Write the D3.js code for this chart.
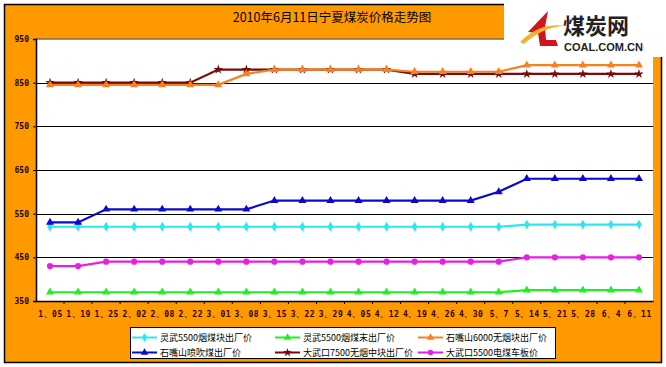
<!DOCTYPE html>
<html><head><meta charset="utf-8">
<script src="https://cdn.jsdelivr.net/npm/d3@7"></script>
<style>body{margin:0;background:#fff}svg{display:block}</style>
</head><body>
<script>
const title = "2010年6月11日宁夏煤炭价格走势图";
const categories = ["1、05","1、19","1、25","2、02","2、08","2、22","3、01","3、08","3、15","3、22","3、29","4、05","4、12","4、19","4、26","4、30","5、7","5、14","5、21","5、28","6、4","6、11"];
const yTicks = [350,450,550,650,750,850,950];
const seriesNames = ["灵武5500烟煤块出厂价","灵武5500烟煤末出厂价","石嘴山6000无烟块出厂价","石嘴山喷吹煤出厂价","大武口7500无烟中块出厂价","大武口5500电煤车板价"];
const lingwuBlock = [520,520,520,520,520,520,520,520,520,520,520,520,520,520,520,520,520,525,525,525,525,525];
const lingwuPowder = [370,370,370,370,370,370,370,370,370,370,370,370,370,370,370,370,370,375,375,375,375,375];
const szsAnthracite = [845,845,845,845,845,845,845,870,880,880,880,880,880,875,875,875,875,890,890,890,890,890];
const szsInjection = [530,530,560,560,560,560,560,560,580,580,580,580,580,580,580,580,600,630,630,630,630,630];
const dwkAnthracite = [850,850,850,850,850,850,880,880,880,880,880,880,880,870,870,870,870,870,870,870,870,870];
const dwkThermal = [430,430,440,440,440,440,440,440,440,440,440,440,440,440,440,440,440,450,450,450,450,450];
const seriesValues = [lingwuBlock, lingwuPowder, szsAnthracite, szsInjection, dwkAnthracite, dwkThermal];
const colors = ["#2EE6EE","#22EE22","#F58220","#0A0ACC","#7A0A0A","#E61EE6"];
const symbols = [d3.symbolDiamond, d3.symbolTriangle, d3.symbolTriangle, d3.symbolTriangle, d3.symbolStar, d3.symbolCircle];

const W = 666, H = 367;
const svg = d3.select("body").append("svg").attr("width", W).attr("height", H);

// outer frame
svg.append("rect").attr("x",4.5).attr("y",4.5).attr("width",657).attr("height",358)
  .attr("fill","#FF9900").attr("stroke","#000").attr("stroke-width",1.5);

const plot = {l:36, r:653, t:39, b:301};
const x = d3.scalePoint().domain(categories).range([plot.l, plot.r]).padding(0.5);
const y = d3.scaleLinear().domain([350,950]).range([plot.b, plot.t]);

svg.append("rect").attr("x",plot.l).attr("y",plot.t).attr("width",plot.r-plot.l).attr("height",plot.b-plot.t).attr("fill","#fff");

// title
svg.append("text").attr("x",332).attr("y",22).attr("text-anchor","middle")
  .attr("font-family","'Noto Sans CJK SC'").attr("font-size",12.5).attr("fill","#000").text(title);

// grid lines
svg.append("g").selectAll("line").data(yTicks.filter(v=>v>350 && v<950)).join("line")
  .attr("x1",plot.l).attr("x2",plot.r).attr("y1",d=>Math.round(y(d))+0.5).attr("y2",d=>Math.round(y(d))+0.5)
  .attr("stroke","#000").attr("stroke-width",1);
svg.append("line").attr("x1",plot.l).attr("x2",plot.r).attr("y1",y(950)).attr("y2",y(950)).attr("stroke","#8a6a3a").attr("stroke-width",1.5);

// y axis
const yAxis = d3.axisLeft(y).tickValues(yTicks).tickSize(3).tickFormat(d3.format("d"));
const gy = svg.append("g").attr("transform",`translate(${plot.l},0)`).call(yAxis);
gy.select(".domain").attr("stroke","#000").attr("stroke-width",1.5);
gy.selectAll(".tick line").attr("stroke","#000");
gy.selectAll("text").attr("x",-7).attr("font-family","'DejaVu Sans Mono'").attr("font-weight","bold").attr("font-size",8).attr("fill","#200");

// x axis
const xb = d3.scaleBand().domain(categories).range([plot.l, plot.r]);
const xAxis = d3.axisBottom(x).tickSize(0).tickPadding(10);
const gx = svg.append("g").attr("transform",`translate(0,${plot.b})`).call(xAxis);
gx.select(".domain").attr("stroke","#000").attr("stroke-width",1.5);
gx.selectAll("text").attr("font-family","'DejaVu Sans Mono'").attr("font-weight","bold").attr("font-size",8).attr("fill","#300").attr("letter-spacing",0.5);
svg.append("g").selectAll("line").data(categories.slice(1)).join("line")
  .attr("x1",d=>xb(d)).attr("x2",d=>xb(d)).attr("y1",plot.b).attr("y2",plot.b+3).attr("stroke","#000");

// lines
const line = d3.line().x((d,i)=>x(categories[i])).y(d=>y(d));
const draw = [4,2,0,3,5,1];
draw.forEach(si=>{
  const g = svg.append("g");
  g.append("path").datum(seriesValues[si]).attr("d",line).attr("fill","none")
    .attr("stroke",colors[si]).attr("stroke-width",2.2);
  g.selectAll("path.m").data(seriesValues[si]).join("path").attr("class","m")
    .attr("transform",(d,i)=>`translate(${x(categories[i])},${y(d)})`)
    .attr("d",d3.symbol().type(symbols[si]).size(si===5?30:28)).attr("fill",colors[si]);
});

// legend
const lg = svg.append("g");
lg.append("rect").attr("x",130.5).attr("y",327.5).attr("width",425).attr("height",31).attr("fill","#fff").attr("stroke","#000");
const cols = [132, 275, 418], rows = [337.5, 352.5];
seriesNames.forEach((n,i)=>{
  const cx = cols[i%3], cy = rows[Math.floor(i/3)];
  lg.append("line").attr("x1",cx).attr("x2",cx+25).attr("y1",cy).attr("y2",cy).attr("stroke",colors[i]).attr("stroke-width",2);
  lg.append("path").attr("transform",`translate(${cx+12.5},${cy})`).attr("d",d3.symbol().type(symbols[i]).size(24)).attr("fill",colors[i]);
  lg.append("text").attr("x",cx+28).attr("y",cy+3.5).attr("font-family","'Noto Sans CJK SC'").attr("font-size",9).attr("fill","#000").text(n);
});

// logo
const logo = svg.append("g");
logo.append("rect").attr("x",504).attr("y",0).attr("width",162).attr("height",57).attr("fill","#fff");
logo.append("path").attr("d","M548,11 L528,32 L538,33 L540,46 L558,46 L556,40 L546,40 L545,27 Z").attr("fill","#D4141C");
logo.append("path").attr("d","M520,42 Q540,22 566,26 Q544,26 524,44 Z").attr("fill","#F2B230");
logo.append("text").attr("x",563).attr("y",34).attr("font-family","'Noto Sans CJK SC'").attr("font-weight","bold").attr("font-size",22).attr("fill","#222").text("煤炭网");
logo.append("text").attr("x",564).attr("y",51).attr("font-family","'Liberation Sans'").attr("font-weight","bold").attr("font-size",11).attr("fill","#222").text("COAL.COM.CN");
</script>
</body></html>
